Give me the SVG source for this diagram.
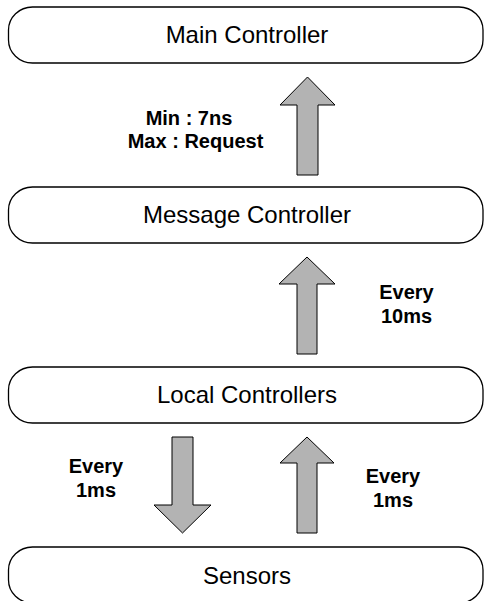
<svg xmlns="http://www.w3.org/2000/svg" width="484" height="601" viewBox="0 0 484 601">
  <style>
    .node { fill: #ffffff; stroke: #000000; stroke-width: 1.3; }
    .name { font-family: "Liberation Sans", Arial, sans-serif; font-size: 24px; fill: #000000; text-anchor: middle; }
    .flow { fill: #b3b3b3; stroke: #000000; stroke-width: 1; stroke-linejoin: miter; }
    .rate { font-family: "Liberation Sans", Arial, sans-serif; font-size: 20px; font-weight: bold; fill: #000000; text-anchor: middle; }
  </style>
  <rect width="484" height="601" fill="#ffffff"/>

  <g id="main-controller">
    <rect class="node" x="8.5" y="7" width="474.5" height="56" rx="24" ry="23"/>
    <text class="name" x="247" y="43">Main Controller</text>
  </g>

  <g id="message-controller">
    <rect class="node" x="8.5" y="187" width="474.5" height="56" rx="24" ry="23"/>
    <text class="name" x="247" y="223">Message Controller</text>
  </g>

  <g id="local-controllers">
    <rect class="node" x="8.5" y="367" width="474.5" height="56" rx="24" ry="23"/>
    <text class="name" x="247" y="403">Local Controllers</text>
  </g>

  <g id="sensors">
    <rect class="node" x="8.5" y="547" width="474.5" height="56" rx="24" ry="23"/>
    <text class="name" x="247" y="584">Sensors</text>
  </g>

  <g id="connectors">
    <!-- Message Controller to Main Controller -->
    <polygon class="flow" points="307.5,77 335,105 318,105 318,175 297,175 297,105 280,105"/>
    <text class="rate" x="189" y="125">Min : 7ns</text>
    <text class="rate" x="195.5" y="148">Max : Request</text>

    <!-- Local Controllers to Message Controller -->
    <polygon class="flow" points="307,257 335,284 317,284 317,354 297,354 297,284 279,284"/>
    <text class="rate" x="406.5" y="299">Every</text>
    <text class="rate" x="406.5" y="323">10ms</text>

    <!-- Local Controllers to Sensors -->
    <polygon class="flow" points="172,437 193,437 193,505 211,505 182.5,533 154,505 172,505"/>
    <text class="rate" x="96" y="473">Every</text>
    <text class="rate" x="96" y="497">1ms</text>

    <!-- Sensors to Local Controllers -->
    <polygon class="flow" points="307,437 334,463 317,463 317,533 297,533 297,463 280,463"/>
    <text class="rate" x="393" y="483">Every</text>
    <text class="rate" x="393" y="507">1ms</text>
  </g>
</svg>
